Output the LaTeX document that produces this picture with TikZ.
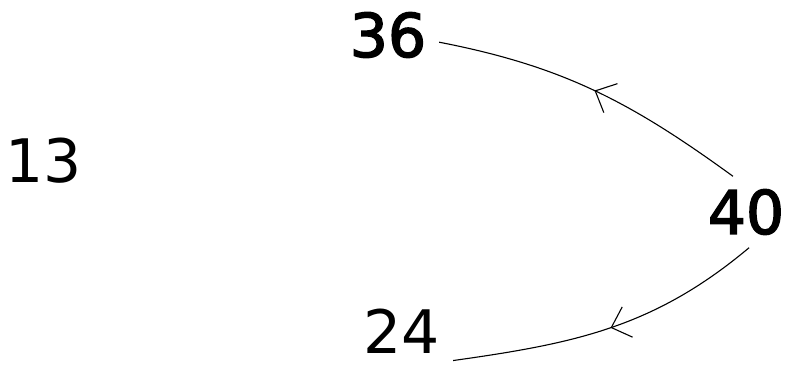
\documentclass[tikz,border=0pt]{standalone}
\usepackage{fontspec}
\setmainfont{DejaVu Sans}
\newfontfamily\heavyfont[FakeBold=2.5]{DejaVu Sans}
\usetikzlibrary{arrows.meta,decorations.markings}

\begin{document}
\begin{tikzpicture}[x=1pt,y=1pt,
  num/.style={inner sep=0pt,outer sep=13pt,font=\fontsize{60}{66}\selectfont},
  bignum/.style={num,font=\fontsize{60}{66}\heavyfont},
  edge/.style={line width=1.1pt,postaction={decorate,decoration={markings,
    mark=at position 0.5 with {\arrow{Straight Barb[length=17pt,width=32pt,line width=1.1pt]}}}}}]
\useasboundingbox (0,0) rectangle (790,370);

\node[bignum] (n36) at (388,335) {36};
\node[num] (n13) at (44,209) {13};
\node[bignum] (n40) at (746,158) {40};
\node[num] (n24) at (402,39) {24};

\draw[edge] (n40.110) to[out=144,in=-11] (n36.-8);
\draw[edge] (n40.-85) to[out=220,in=8] (n24.-30);
\end{tikzpicture}
\end{document}
